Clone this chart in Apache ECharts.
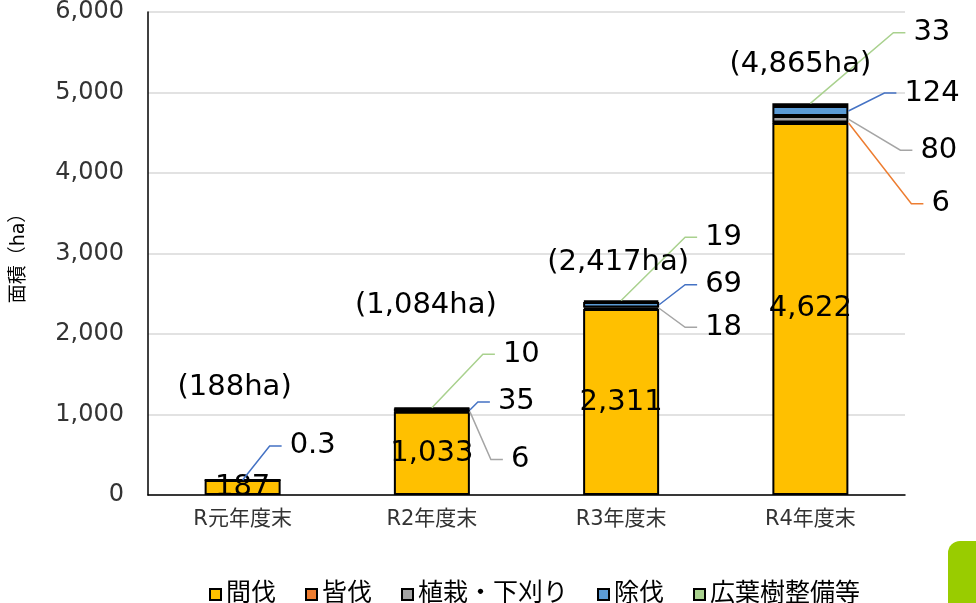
<!DOCTYPE html>
<html>
<head>
<meta charset="utf-8">
<script src="https://cdn.jsdelivr.net/npm/echarts@6/dist/echarts.min.js"></script>
<style>
  html, body { margin: 0; padding: 0; background: #fff; }
  #chart { width: 976px; height: 603px; }
</style>
</head>
<body>
<div id="chart"></div>
<script>
// 面積(ha) by year-end and work type
const categories = ['R元年度末', 'R2年度末', 'R3年度末', 'R4年度末'];
const seriesNames = ['間伐', '皆伐', '植栽・下刈り', '除伐', '広葉樹整備等'];
const kanbatsu = [187, 1033, 2311, 4622];
const kaibatsu = [0, 0, 0, 6];
const shokusai = [0, 6, 18, 80];
const jobatsu = [0.3, 35, 69, 124];
const kouyouju = [0, 10, 19, 33];
const totals = [188, 1084, 2417, 4865];
const yTicks = { min: 0, max: 6000, interval: 1000 };

const stackValues = [kanbatsu, kaibatsu, shokusai, jobatsu, kouyouju];
const barColors = ['#FFC000', '#ED7D31', '#A5A5A5', '#5B9BD5', '#A9D18E'];
const leaderColors = [null, '#ED7D31', '#A5A5A5', '#4472C4', '#A9D18E'];
const FONT = "'DejaVu Sans', 'Noto Sans CJK JP', sans-serif";
const BAR_WIDTH = 76;

// callout placement: [dx from bar right edge, dy from segment middle]
const calloutOffsets = [
  null,
  [null, null, null, [83, 81]],
  [null, [41, 48], [46, 19], [72, 31]],
  [[9, -34], [28, -8], [46, -20], [56, -18]],
  [null, [33, -54], [46, -64], [65, -72]],
];
// total label placement: [dx from bar centre, dy from bar top]
const totalOffsets = [[-8, -92], [-6, -102], [-3, -38], [-10, -39]];

const fmt = (v) => v.toLocaleString('en-US');

// build callout items from the stacked values
const calloutData = [];
categories.forEach((cat, c) => {
  let base = 0;
  let topIdx = 0;
  stackValues.forEach((arr, s) => { if (arr[c] > 0) topIdx = s; });
  stackValues.forEach((arr, s) => {
    const v = arr[c];
    if (s > 0 && v > 0) {
      const off = calloutOffsets[s][c];
      calloutData.push([c, base, base + v, s, off[0], off[1], s === topIdx ? 1 : 0, v]);
    }
    base += v;
  });
});

const barSeries = seriesNames.map((name, s) => ({
  name,
  type: 'bar',
  stack: 'total',
  barWidth: BAR_WIDTH,
  itemStyle: { color: barColors[s], borderColor: '#000', borderWidth: 2 },
  label: s === 0 ? {
    show: true,
    position: 'inside',
    color: '#000',
    fontSize: 29,
    fontFamily: FONT,
    formatter: (p) => fmt(p.value),
  } : { show: false },
  data: stackValues[s].map((v) => (v > 0 ? v : null)),
}));

const calloutSeries = {
  type: 'custom',
  silent: true,
  z: 5,
  encode: { x: 0, y: 2 },
  data: calloutData,
  renderItem(params, api) {
    const c = api.value(0);
    const pTop = api.coord([c, api.value(2)]);
    const pBot = api.coord([c, api.value(1)]);
    const s = api.value(3);
    const right = pTop[0] + BAR_WIDTH / 2;
    const mid = (pTop[1] + pBot[1]) / 2;
    const anchor = api.value(6) ? [pTop[0], pTop[1]] : [right, mid];
    const tx = right + api.value(4);
    const ty = mid + api.value(5);
    return {
      type: 'group',
      children: [
        {
          type: 'polyline',
          shape: { points: [anchor, [tx - 20, ty], [tx - 8, ty]] },
          style: { stroke: leaderColors[s], lineWidth: 1.5, fill: null },
        },
        {
          type: 'text',
          style: {
            text: fmt(api.value(7)),
            x: tx,
            y: ty,
            fill: '#000',
            font: '29px ' + FONT,
            align: 'left',
            verticalAlign: 'middle',
          },
        },
      ],
    };
  },
};

const totalSeries = {
  type: 'custom',
  silent: true,
  z: 5,
  encode: { x: 0, y: 1 },
  data: totals.map((t, c) => [c, t]),
  renderItem(params, api) {
    const c = api.value(0);
    const p = api.coord([c, api.value(1)]);
    const off = totalOffsets[c];
    return {
      type: 'text',
      style: {
        text: '(' + fmt(api.value(1)) + 'ha)',
        x: p[0] + off[0],
        y: p[1] + off[1],
        fill: '#000',
        font: '29px ' + FONT,
        align: 'center',
        verticalAlign: 'middle',
      },
    };
  },
};

const chart = echarts.init(document.getElementById('chart'));
chart.setOption({
  animation: false,
  textStyle: { fontFamily: FONT },
  grid: { left: 148, right: 71, top: 12, bottom: 108 },
  legend: {
    data: seriesNames,
    left: 204,
    top: 577,
    icon: 'rect',
    itemWidth: 11,
    itemHeight: 11,
    itemGap: 29,
    textStyle: { fontSize: 25, color: '#000', fontFamily: FONT },
  },
  xAxis: {
    type: 'category',
    data: categories,
    axisTick: { show: false },
    axisLine: { lineStyle: { color: '#000', width: 1.5 } },
    axisLabel: { fontSize: 21, color: '#333', margin: 14 },
  },
  yAxis: {
    type: 'value',
    min: yTicks.min,
    max: yTicks.max,
    interval: yTicks.interval,
    name: '面積（ha）',
    nameLocation: 'middle',
    nameRotate: 90,
    nameGap: 119,
    nameTextStyle: { fontSize: 19, color: '#000' },
    axisLine: { show: true, lineStyle: { color: '#000', width: 1.5 } },
    axisTick: { show: false },
    splitLine: { lineStyle: { color: '#d9d9d9', width: 1.5 } },
    axisLabel: { fontSize: 24, color: '#333', margin: 24, formatter: (v) => fmt(v) },
  },
  graphic: [{
    type: 'rect',
    left: 948,
    top: 541,
    shape: { width: 40, height: 80, r: 12 },
    style: { fill: '#99CC00' },
  }],
  series: [...barSeries, calloutSeries, totalSeries],
});
window.addEventListener('resize', () => { chart.resize(); });
</script>
</body>
</html>
